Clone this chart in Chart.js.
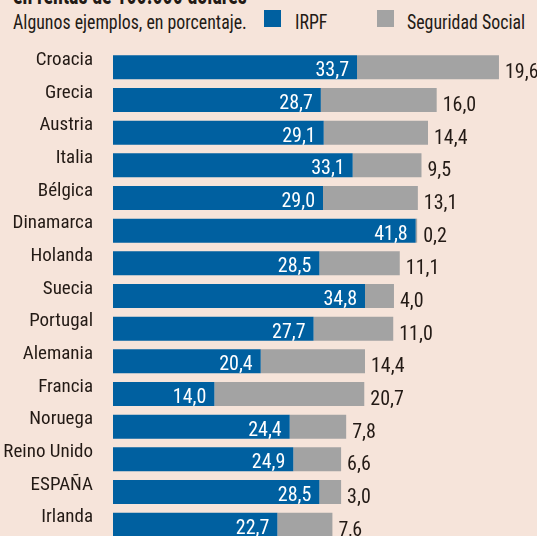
<!DOCTYPE html>
<html>
<head>
<meta charset="utf-8">
<script src="https://cdn.jsdelivr.net/npm/chart.js@4"></script>
<style>
  html, body { margin: 0; padding: 0; background: #f6e4da; overflow: hidden; }
  #wrap { position: relative; width: 537px; height: 536px; overflow: hidden; }
  #chart { position: absolute; left: 0; top: 0; }
  .txt { position: absolute; font-family: "Roboto Condensed", "DejaVu Sans Condensed", sans-serif; color: #231a15; white-space: nowrap; transform-origin: left top; }
  #title { left: 13px; top: -20px; font-size: 26px; font-weight: bold; line-height: 30px; transform: scaleX(0.77); }
  .head { top: 11px; font-size: 21px; line-height: 22px; transform: scaleX(0.85); }
  .sw { position: absolute; top: 10px; width: 17px; height: 17px; }
</style>
</head>
<body>
<div id="wrap">
  <div class="txt" id="title">en rentas de 100.000 dólares</div>
  <div class="txt head" style="left:13px">Algunos ejemplos, en porcentaje.</div>
  <div class="sw" style="left:264px;background:#0060a0"></div>
  <div class="txt head" style="left:295px">IRPF</div>
  <div class="sw" style="left:377px;background:#a3a3a3"></div>
  <div class="txt head" style="left:407px">Seguridad Social</div>
  <canvas id="chart" width="537" height="541"></canvas>
</div>
<script>
(function() {
    'use strict';

    // Data
    var countries = ['Croacia', 'Grecia', 'Austria', 'Italia', 'Bélgica', 'Dinamarca', 'Holanda',
        'Suecia', 'Portugal', 'Alemania', 'Francia', 'Noruega', 'Reino Unido', 'ESPAÑA', 'Irlanda'];
    var irpf = [33.7, 28.7, 29.1, 33.1, 29.0, 41.8, 28.5, 34.8, 27.7, 20.4, 14.0, 24.4, 24.9, 28.5, 22.7];
    var seguridadSocial = [19.6, 16.0, 14.4, 9.5, 13.1, 0.2, 11.1, 4.0, 11.0, 14.4, 20.7, 7.8, 6.6, 3.0, 7.6];

    var FONT = '"Roboto Condensed", "DejaVu Sans Condensed", sans-serif';
    var INK = '#231a15';

    function fmt(v) {
        return v.toFixed(1).replace('.', ',');
    }

    // Value labels: white inside the blue bar, dark after the grey bar
    var valueLabels = {
        id: 'valueLabels',
        afterDatasetsDraw: function(chart) {
            var ctx = chart.ctx;
            ctx.save();
            ctx.font = '20px ' + FONT;
            ctx.textBaseline = 'alphabetic';

            var blue = chart.getDatasetMeta(0);
            blue.data.forEach(function(bar, i) {
                ctx.fillStyle = '#ffffff';
                ctx.textAlign = 'right';
                ctx.fillText(fmt(irpf[i]), bar.x - 8, bar.y + bar.height / 2 - 3);
            });

            var grey = chart.getDatasetMeta(1);
            grey.data.forEach(function(bar, i) {
                ctx.fillStyle = INK;
                ctx.textAlign = 'left';
                ctx.fillText(fmt(seguridadSocial[i]), bar.x + 6, bar.y + bar.height / 2 - 1);
            });
            ctx.restore();
        }
    };

    new Chart(document.getElementById('chart'), {
        type: 'bar',
        data: {
            labels: countries,
            datasets: [{
                label: 'IRPF',
                data: irpf,
                backgroundColor: '#0060a0'
            }, {
                label: 'Seguridad Social',
                data: seguridadSocial,
                backgroundColor: '#a3a3a3'
            }]
        },
        options: {
            indexAxis: 'y',
            responsive: false,
            animation: false,
            barPercentage: 0.735,
            categoryPercentage: 1,
            layout: {
                padding: { top: 51, right: 4, bottom: 0, left: 0 }
            },
            scales: {
                x: {
                    stacked: true,
                    min: 0,
                    max: 58,
                    display: false
                },
                y: {
                    stacked: true,
                    grid: { display: false },
                    border: { display: false },
                    ticks: {
                        color: INK,
                        padding: 12,
                        labelOffset: -7,
                        font: { family: FONT, size: 19 }
                    },
                    afterFit: function(scale) {
                        scale.width = 113;
                        scale.paddingTop = 0;
                        scale.paddingBottom = 0;
                    }
                }
            },
            plugins: {
                legend: { display: false },
                tooltip: { enabled: false }
            }
        },
        plugins: [valueLabels]
    });
})();
</script>
</body>
</html>
